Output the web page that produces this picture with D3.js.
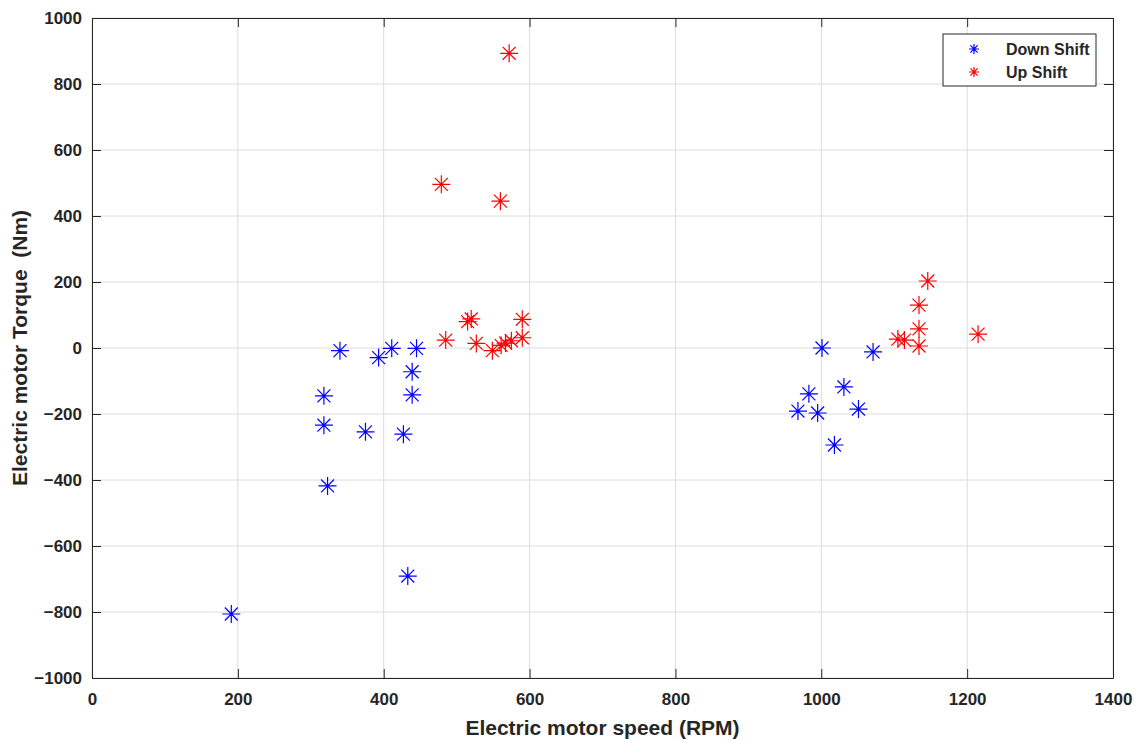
<!DOCTYPE html>
<html>
<head>
<meta charset="utf-8">
<script src="https://cdn.jsdelivr.net/npm/d3@7"></script>
<style>
  body { margin: 0; background: #fff; }
  text { font-family: "Liberation Sans", Arial, sans-serif; font-weight: bold; fill: #262626; }
</style>
</head>
<body>
<script>
// Down shift points (speed RPM, torque Nm)
const downSpeed = [191, 318, 318, 323, 340, 375, 393, 411, 427, 433, 439, 439, 445,
  968, 983, 995, 1001, 1018, 1031, 1051, 1071]
const downTorque = [-806, -145, -234, -418, -8, -254, -29, -1, -261, -691, -72, -142, -1,
  -191, -139, -197, 0, -294, -118, -185, -12]

// Up shift points
const upSpeed = [479, 485, 515, 520, 527, 549, 560, 561, 567, 572, 575, 590, 590,
  1105, 1114, 1134, 1134, 1134, 1146, 1215]
const upTorque = [496, 24, 80, 88, 14, -8, 445, 8, 15, 893, 22, 87, 31,
  27, 24, 130, 58, 6, 203, 42]

const xTicks = [0, 200, 400, 600, 800, 1000, 1200, 1400]
const yTicks = [-1000, -800, -600, -400, -200, 0, 200, 400, 600, 800, 1000]
const seriesNames = ['Down Shift', 'Up Shift']
const seriesColors = ['#0000ff', '#ff0000']

const svgWidth = 1142, svgHeight = 740
const margin = {top: 18, right: 29, bottom: 62, left: 92}
const width = svgWidth - margin.left - margin.right,
  height = svgHeight - margin.top - margin.bottom

const svg = d3.select('body').append('svg')
  .attr('width', svgWidth)
  .attr('height', svgHeight)

const x = d3.scaleLinear().domain([0, 1400]).range([0, width])
const y = d3.scaleLinear().domain([-1000, 1000]).range([height, 0])

const g = svg.append('g')
  .attr('transform', 'translate(' + margin.left + ',' + margin.top + ')')

// grid
g.append('g')
  .selectAll('line')
  .data(xTicks)
  .join('line')
  .attr('x1', d => x(d)).attr('x2', d => x(d))
  .attr('y1', 0).attr('y2', height)
  .attr('stroke', '#dcdcdc')
g.append('g')
  .selectAll('line')
  .data(yTicks)
  .join('line')
  .attr('y1', d => y(d)).attr('y2', d => y(d))
  .attr('x1', 0).attr('x2', width)
  .attr('stroke', '#dcdcdc')

// axes (ticks inside, MATLAB style)
const fmt = d3.format('d')
const xAxis = g.append('g')
  .attr('transform', 'translate(0,' + height + ')')
  .call(d3.axisBottom(x).tickValues(xTicks).tickFormat(fmt).tickSizeInner(-9).tickSizeOuter(0).tickPadding(15))
const yAxis = g.append('g')
  .call(d3.axisLeft(y).tickValues(yTicks).tickFormat(fmt).tickSizeInner(-9).tickSizeOuter(0).tickPadding(10))
g.append('g')
  .call(d3.axisTop(x).tickValues(xTicks).tickSizeInner(-9).tickSizeOuter(0).tickFormat(''))
g.append('g')
  .attr('transform', 'translate(' + width + ',0)')
  .call(d3.axisRight(y).tickValues(yTicks).tickSizeInner(-9).tickSizeOuter(0).tickFormat(''))

g.selectAll('.domain, .tick line').attr('stroke', '#262626')
xAxis.selectAll('text').style('font-size', '17px')
yAxis.selectAll('text').style('font-size', '17px')

// star marker like MATLAB '*'
function star(r) {
  const d = r * 0.72
  return 'M' + (-r) + ',0H' + r + 'M0,' + (-r) + 'V' + r +
    'M' + (-d) + ',' + (-d) + 'L' + d + ',' + d +
    'M' + (-d) + ',' + d + 'L' + d + ',' + (-d)
}

const series = [
  {xs: downSpeed, ys: downTorque},
  {xs: upSpeed, ys: upTorque}
]

series.forEach(function(s, i) {
  g.append('g')
    .selectAll('path')
    .data(s.xs.map((v, k) => [v, s.ys[k]]))
    .join('path')
    .attr('transform', d => 'translate(' + x(d[0]) + ',' + y(d[1]) + ')')
    .attr('d', star(9))
    .attr('fill', 'none')
    .attr('stroke', seriesColors[i])
    .attr('stroke-width', 1.2)
})

// axis titles
svg.append('text')
  .attr('x', margin.left + width / 2)
  .attr('y', 735)
  .attr('text-anchor', 'middle')
  .style('font-size', '21px')
  .text('Electric motor speed (RPM)')

svg.append('text')
  .attr('transform', 'translate(27,' + (margin.top + height / 2) + ') rotate(-90)')
  .attr('text-anchor', 'middle')
  .style('font-size', '21px')
  .style('white-space', 'pre')
  .text('Electric motor Torque  (Nm)')

// legend
const legend = svg.append('g').attr('transform', 'translate(943,34)')
legend.append('rect')
  .attr('width', 153).attr('height', 52)
  .attr('fill', '#fff').attr('stroke', '#262626')
seriesNames.forEach(function(name, i) {
  legend.append('path')
    .attr('transform', 'translate(31,' + (15 + i * 23) + ')')
    .attr('d', star(5))
    .attr('fill', 'none')
    .attr('stroke', seriesColors[i])
    .attr('stroke-width', 1.2)
  legend.append('text')
    .attr('x', 63).attr('y', 21 + i * 23)
    .style('font-size', '16px')
    .text(name)
})
</script>
</body>
</html>
